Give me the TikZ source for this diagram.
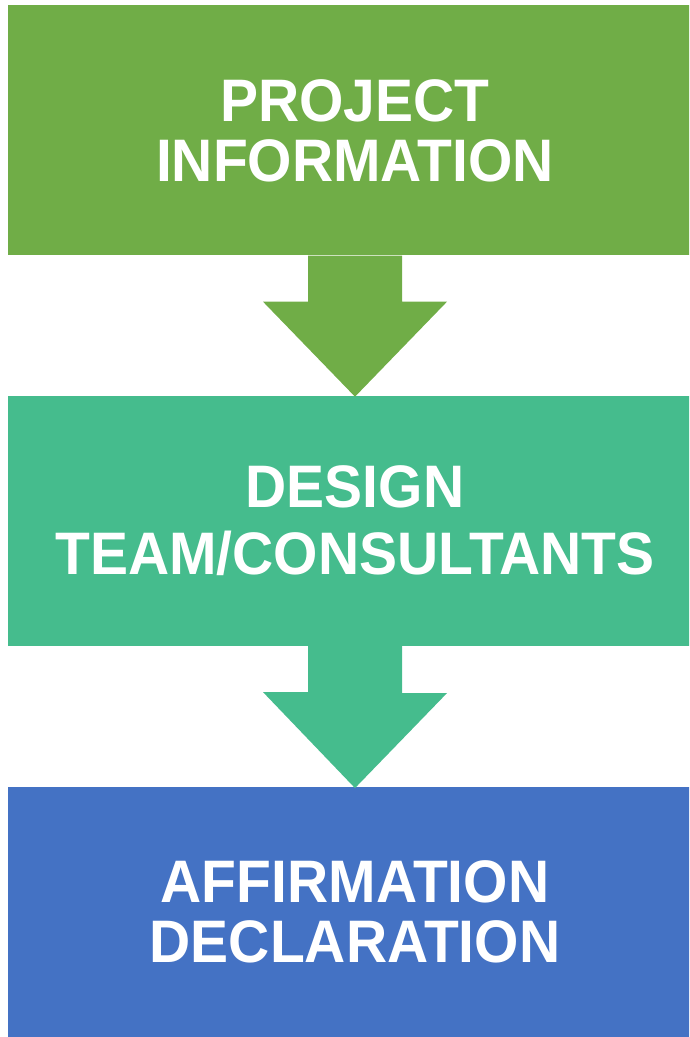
\documentclass[tikz,border=0pt]{standalone}
\usepackage{fontspec}
\newfontfamily\boxfont{Liberation Sans}[FakeStretch=0.95]
\usetikzlibrary{positioning}

\definecolor{projgreen}{RGB}{112,173,71}
\definecolor{teamgreen}{RGB}{69,188,141}
\definecolor{affblue}{RGB}{68,114,196}

\tikzset{
  stagebox/.style = {minimum width = 694pt, minimum height = 250pt, inner sep = 0pt,
                     align = center, text = white,
                     font = \boxfont\bfseries\fontsize{60}{60}\selectfont},
}

\begin{document}
\begin{tikzpicture}[x = 1pt, y = 1pt, node distance = 140pt]
            \clip (0,0) rectangle (689,1037);
            \node[stagebox, fill = projgreen] (proj) at (355,906.5) {PROJECT\\INFORMATION};
            \node[stagebox, fill = teamgreen, below = of proj] (team) {DESIGN\\[7pt]TEAM/CONSULTANTS};
            \node[stagebox, fill = affblue, below = 141pt of team] (aff) {AFFIRMATION\\DECLARATION};
            % block arrows between the stages
            \fill[projgreen]
              ([xshift = -47pt]proj.south) -- ++(0,-46) -- ++(-45,0)
              -- ([yshift = -1pt]team.north)
              -- ++(92,95) -- ++(-45,0) -- ([xshift = 47pt]proj.south) -- cycle;
            \fill[teamgreen]
              ([xshift = -47pt]team.south) -- ++(0,-46) -- ++(-45,0)
              -- ([yshift = -1pt]aff.north)
              -- ++(92,95) -- ++(-45,0) -- ([xshift = 47pt]team.south) -- cycle;
        \end{tikzpicture}
\end{document}
